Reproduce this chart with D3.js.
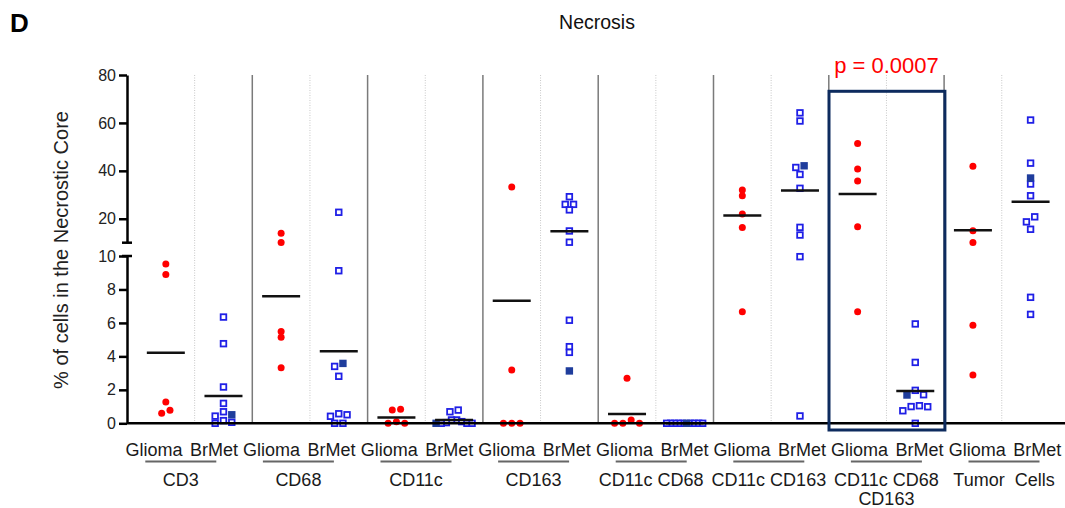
<!DOCTYPE html>
<html>
<head>
<meta charset="utf-8">
<script src="https://cdn.jsdelivr.net/npm/d3@7.9.0/dist/d3.min.js"></script>
<style>
  body { margin: 0; background: #fff; }
  svg { display: block; font-family: "Liberation Sans", Arial, sans-serif; }
</style>
</head>
<body>
<svg id="chart" width="1065" height="508"></svg>
<script>
// Data
const groups = ["CD3", "CD68", "CD11c", "CD163", "CD11c CD68", "CD11c CD163", "CD11c CD68 CD163", "Tumor Cells"];
const groupLabels = [["CD3"], ["CD68"], ["CD11c"], ["CD163"], ["CD11c CD68"], ["CD11c CD163"], ["CD11c CD68", "CD163"], ["Tumor  Cells"]];
const subLabels = ["Glioma", "BrMet"];

const gliomaValues = [
  [9.52, 8.9, 1.27, 0.78, 0.6],
  [13.9, 10.1, 5.48, 5.14, 3.32],
  [0.84, 0.79, 0.1, 0, 0],
  [33.3, 3.19, 0, 0, 0],
  [2.69, 0.2, 0, 0, 0],
  [32.0, 29.6, 22.0, 16.3, 6.67],
  [51.4, 40.8, 35.8, 16.7, 6.67],
  [41.9, 15.0, 10.1, 5.86, 2.89]
];
const brmetValues = [
  [6.35, 4.76, 2.17, 1.19, 0.69, 0.51, 0.43, 0.16, 0.06, 0],
  [22.7, 9.12, 3.58, 3.4, 2.81, 0.57, 0.51, 0.42, 0, 0],
  [0.79, 0.69, 0.2, 0.2, 0.1, 0.04, 0, 0, 0, 0],
  [29.2, 26, 26, 23.7, 14.9, 10.2, 6.16, 4.58, 4.24, 3.13],
  [0, 0, 0, 0, 0, 0, 0, 0, 0, 0],
  [64.2, 60.8, 42.1, 41.4, 38.5, 32.7, 16.4, 13.2, 9.96, 0.44],
  [5.94, 3.64, 1.97, 1.71, 1.69, 1.05, 1.0, 0.99, 0.75, 0],
  [61.2, 43.2, 37.0, 34.5, 29.6, 20.8, 18.7, 15.6, 7.53, 6.51]
];
// index of the solid square in each BrMet column
const brmetFilled = [5, 2, 9, 9, 0, 2, 4, 2];

const gliomaMeans = [4.22, 7.6, 0.34, 7.33, 0.56, 21.4, 30.3, 15.2];
const brmetMeans = [1.63, 4.3, 0.2, 14.75, 0, 31.8, 1.93, 27.1];

const upperTicks = [20, 40, 60, 80];
const lowerTicks = [0, 2, 4, 6, 8, 10];
const highlightGroup = "CD11c CD68 CD163";
const pLabel = "p = 0.0007";

const svg = d3.select("#chart");

// scales: broken y axis, 0-10 below and 10-80 above
const x = d3.scaleBand().domain(groups).range([137, 1059.4]);
const labelX = d3.scaleBand().domain(groups).range([124, 1064.8]);
const yLow = d3.scaleLinear().domain([0, 10]).range([423.3, 256]);
const yHigh = d3.scaleLinear().domain([10, 80]).range([242.7, 75]);
const y = v => (v <= 10 ? yLow(v) : yHigh(v));
const bw = x.bandwidth();
const axisX = 127;

// scatter columns: rows of close values, highest in the middle
function spread(values, cx) {
  const pts = values.map((v, i) => ({ v, i, y: y(v) }));
  const rows = [];
  pts.slice().sort((a, b) => a.v - b.v).forEach(p => {
    const row = rows[rows.length - 1];
    if (row && row[0].y - p.y < 5.05) row.push(p);
    else rows.push([p]);
  });
  rows.forEach(row => {
    const n = row.length;
    const step = n > 1 ? Math.min(8.3, 36 / (n - 1)) : 0;
    const slots = d3.range(n).map(k => k - (n - 1) / 2)
      .sort((a, b) => Math.abs(a) - Math.abs(b) || b - a);
    row.slice().sort((a, b) => b.v - a.v).forEach((p, k) => { p.x = cx + slots[k] * step; });
  });
  return pts;
}

// separators
groups.forEach((g, i) => {
  if (i > 0) {
    svg.append("line")
      .attr("x1", x(g)).attr("x2", x(g))
      .attr("y1", yHigh(80)).attr("y2", yLow(0))
      .attr("stroke", "#7a7a7a").attr("stroke-width", 1.5);
  }
  svg.append("line")
    .attr("x1", x(g) + bw / 2).attr("x2", x(g) + bw / 2)
    .attr("y1", yHigh(80)).attr("y2", yLow(0))
    .attr("stroke", "#c8c8c8").attr("stroke-width", 1)
    .attr("stroke-dasharray", "1,1.5");
});

// points
const marks = svg.append("g");
groups.forEach((g, gi) => {
  const gx = x(g) + bw * 0.25;
  const bx = x(g) + bw * 0.75;

  spread(gliomaValues[gi], gx).forEach(p => {
    marks.append("circle")
      .attr("cx", p.x).attr("cy", p.y).attr("r", 3.5)
      .attr("fill", "#ff0000");
  });

  const bpts = spread(brmetValues[gi], bx);
  const s = 5.6;
  bpts.filter(p => p.i !== brmetFilled[gi]).forEach(p => {
    marks.append("rect")
      .attr("x", p.x - s / 2).attr("y", p.y - s / 2)
      .attr("width", s).attr("height", s)
      .attr("fill", "#fff").attr("stroke", "#1f1fe6").attr("stroke-width", 1.8);
  });
  bpts.filter(p => p.i === brmetFilled[gi]).forEach(p => {
    marks.append("rect")
      .attr("x", p.x - s / 2 - 0.9).attr("y", p.y - s / 2 - 0.9)
      .attr("width", s + 1.8).attr("height", s + 1.8)
      .attr("fill", "#1f3d9c");
  });

  // mean lines
  [[gx, gliomaMeans[gi]], [bx, brmetMeans[gi]]].forEach(([cx, m]) => {
    svg.append("line")
      .attr("x1", cx - 19).attr("x2", cx + 19)
      .attr("y1", y(m)).attr("y2", y(m))
      .attr("stroke", "#111").attr("stroke-width", 2.5);
  });
});

// axes
function styleAxis(g) {
  g.select(".domain").attr("stroke", "#000").attr("stroke-width", 2.5);
  g.selectAll(".tick line").attr("stroke", "#000").attr("stroke-width", 2.5);
  g.selectAll(".tick text").attr("font-size", 16).attr("fill", "#222")
    .attr("font-family", "'Liberation Sans', Arial, sans-serif");
}
svg.append("g").attr("transform", `translate(${axisX},0)`)
  .call(d3.axisLeft(yHigh).tickValues(upperTicks).tickSize(8).tickSizeOuter(0).tickPadding(3))
  .call(styleAxis);
svg.append("g").attr("transform", `translate(${axisX},0)`)
  .call(d3.axisLeft(yLow).tickValues(lowerTicks).tickSize(8).tickSizeOuter(0).tickPadding(3))
  .call(styleAxis);
[yHigh(10), yLow(10)].forEach(yy => {
  svg.append("line")
    .attr("x1", axisX - 5).attr("x2", axisX + 5)
    .attr("y1", yy).attr("y2", yy)
    .attr("stroke", "#000").attr("stroke-width", 2.5);
});
svg.append("line")
  .attr("x1", axisX).attr("x2", 1065)
  .attr("y1", yLow(0)).attr("y2", yLow(0))
  .attr("stroke", "#000").attr("stroke-width", 2.5);

// highlight box and p value
const hx = x(highlightGroup);
svg.append("rect")
  .attr("x", hx + 0.2).attr("y", yHigh(73.2))
  .attr("width", bw + 0.6).attr("height", yLow(0) + 6.7 - yHigh(73.2))
  .attr("fill", "none").attr("stroke", "#0d2b5e").attr("stroke-width", 3);
svg.append("text")
  .attr("x", hx + bw / 2).attr("y", 73)
  .attr("text-anchor", "middle").attr("font-size", 22).attr("fill", "#ff0000")
  .text(pLabel);

// category labels
groups.forEach((g, gi) => {
  const lx = labelX(g);
  const lw = labelX.bandwidth();
  subLabels.forEach((t, k) => {
    svg.append("text")
      .attr("x", lx + (k === 0 ? 30 : 90)).attr("y", 455.5)
      .attr("text-anchor", "middle").attr("font-size", 18).attr("fill", "#1a1a1a")
      .text(t);
  });
  svg.append("line")
    .attr("x1", lx + lw / 2 - 2 - 35.5).attr("x2", lx + lw / 2 - 2 + 35.5)
    .attr("y1", 461.5).attr("y2", 461.5)
    .attr("stroke", "#666").attr("stroke-width", 1.8);
  groupLabels[gi].forEach((t, k) => {
    svg.append("text")
      .attr("x", lx + lw / 2 - 2).attr("y", 485.5 + k * 19.5)
      .attr("text-anchor", "middle").attr("font-size", 18).attr("fill", "#1a1a1a")
      .style("white-space", "pre")
      .text(t);
  });
});

// titles
svg.append("text")
  .attr("x", 10).attr("y", 31.5)
  .attr("font-size", 26).attr("font-weight", "bold").attr("fill", "#000")
  .text("D");
svg.append("text")
  .attr("x", 597).attr("y", 29)
  .attr("text-anchor", "middle").attr("font-size", 19.5).attr("fill", "#111")
  .text("Necrosis");
svg.append("text")
  .attr("transform", "translate(68,250) rotate(-90)")
  .attr("text-anchor", "middle").attr("font-size", 20).attr("fill", "#222")
  .text("% of cells in the Necrostic Core");
</script>
</body>
</html>
